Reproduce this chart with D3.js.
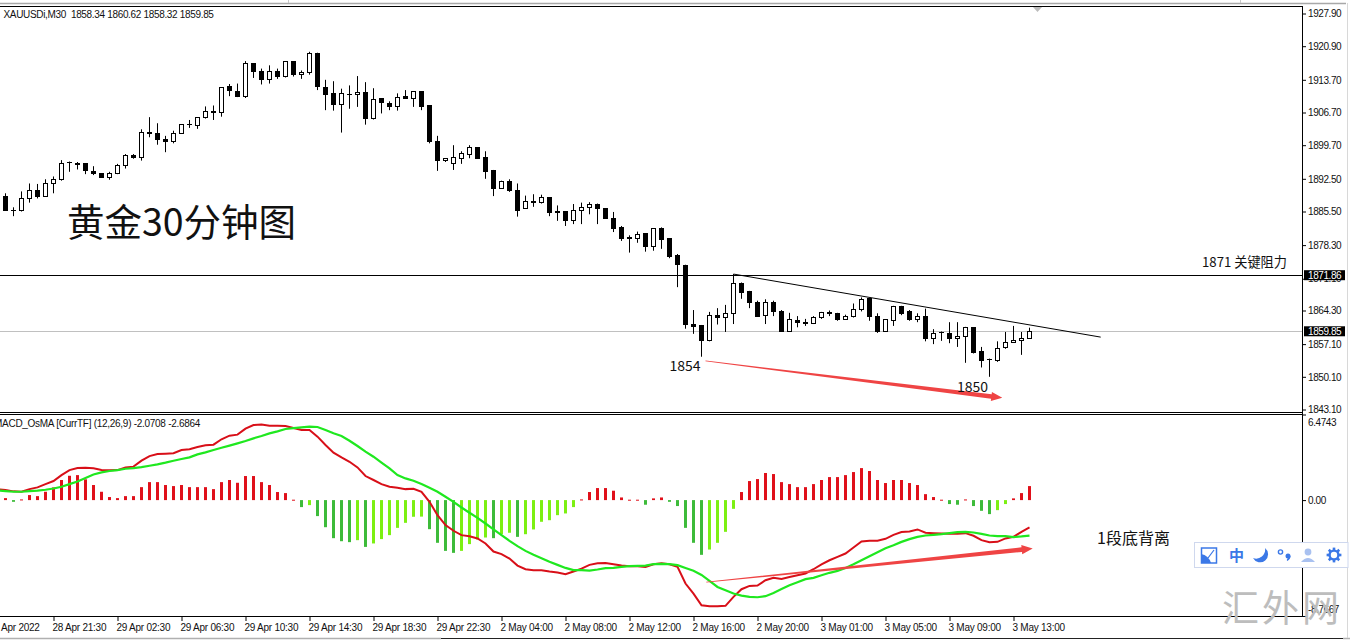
<!DOCTYPE html>
<html><head><meta charset="utf-8">
<script src="https://cdn.jsdelivr.net/npm/d3@7/dist/d3.min.js"></script>
<style>html,body{margin:0;padding:0;background:#fff}svg{display:block}
.ax text{font-family:"Liberation Sans",sans-serif;font-size:10px;letter-spacing:-.42px;fill:#111}
.ax line{stroke:#000}.ax path{display:none}
.cjk{font-family:"Noto Sans CJK SC",sans-serif;fill:#111}</style>
</head><body><svg id="c" width="1350" height="640"></svg>
<script>
const opens=[1888.8,1885.8,1885.7,1888.3,1890.1,1888.7,1891.4,1892.3,1895.9,1895.8,
1895.7,1894.1,1893.7,1892.8,1893.7,1895.4,1897.5,1897.1,1902.5,1902.2,
1900.9,1900.5,1902.2,1904.2,1904.0,1905.7,1907.0,1906.7,1912.2,1911.2,
1910.2,1917.1,1915.5,1913.8,1915.5,1914.4,1917.7,1914.8,1915.2,1919.4,
1912.1,1910.7,1908.4,1910.6,1910.5,1911.0,1905.4,1909.6,1908.7,1907.9,
1910.2,1909.7,1911.1,1908.1,1900.4,1896.4,1895.7,1896.8,1897.8,1899.1,
1897.1,1894.2,1890.4,1892.0,1890.1,1886.1,1887.7,1887.4,1888.5,1885.5,
1885.5,1883.5,1885.7,1886.4,1887.1,1886.2,1884.1,1882.1,1879.9,1879.8,
1880.7,1877.9,1881.9,1879.7,1876.0,1874.0,1861.3,1861.0,1857.8,1863.3,
1862.8,1863.7,1870.1,1868.3,1866.1,1863.3,1866.1,1864.1,1859.8,1862.2,
1861.8,1861.5,1862.7,1863.9,1863.7,1862.4,1863.0,1864.5,1866.8,1863.1,
1859.8,1862.1,1865.1,1864.0,1862.3,1863.1,1858.3,1859.5,1859.4,1858.3,
1858.7,1860.7,1855.5,1853.7,1853.5,1856.3,1857.4,1857.8,1858.34];
const highs=[1889.4,1886.4,1889.8,1891.5,1891.4,1892.4,1893.0,1896.5,1896.2,1896.1,
1895.7,1895.2,1893.7,1894.0,1895.7,1897.8,1897.8,1903.1,1905.7,1904.4,
1901.7,1902.8,1904.1,1905.1,1905.7,1908.0,1908.2,1912.1,1912.8,1912.9,
1917.7,1917.2,1916.1,1916.8,1916.1,1917.7,1917.7,1915.7,1919.7,1919.5,
1913.7,1913.4,1911.8,1912.5,1914.5,1913.2,1911.9,1909.6,1909.1,1910.8,
1911.5,1911.2,1911.2,1908.1,1901.7,1896.9,1899.7,1898.4,1899.7,1899.2,
1898.4,1894.4,1892.1,1892.4,1891.5,1888.9,1889.2,1889.1,1888.5,1886.8,
1885.5,1887.1,1887.4,1887.5,1887.2,1886.2,1885.4,1882.4,1880.4,1881.2,
1880.7,1881.9,1882.1,1879.7,1876.4,1874.1,1864.4,1861.2,1864.0,1864.8,
1865.5,1872.1,1870.3,1868.5,1866.4,1866.7,1866.4,1864.4,1863.8,1863.1,
1862.5,1863.1,1864.0,1864.3,1863.8,1863.4,1865.8,1867.1,1867.0,1863.7,
1862.4,1865.3,1865.3,1864.4,1863.7,1864.7,1860.3,1859.8,1861.8,1861.8,
1860.8,1860.7,1856.5,1854.0,1857.7,1859.7,1861.0,1859.7,1860.62];
const lows=[1885.7,1884.5,1885.5,1887.4,1888.3,1888.7,1889.4,1892.1,1894.0,1894.5,
1893.5,1893.3,1892.7,1892.3,1893.5,1894.7,1896.8,1896.4,1901.4,1899.8,
1898.2,1900.1,1902.1,1903.4,1903.2,1905.4,1905.1,1905.8,1910.2,1910.0,
1909.8,1914.1,1912.7,1912.9,1913.9,1914.2,1914.4,1913.9,1914.8,1911.5,
1907.2,1907.1,1902.4,1907.5,1907.9,1904.1,1905.2,1906.5,1907.2,1907.1,
1909.7,1907.9,1907.2,1900.1,1894.2,1896.1,1894.4,1895.7,1896.9,1896.8,
1892.5,1888.8,1890.4,1889.7,1884.4,1886.1,1886.5,1887.2,1884.5,1883.5,
1882.4,1882.8,1882.8,1884.9,1882.8,1883.9,1881.1,1879.2,1876.7,1878.8,
1876.9,1877.1,1877.5,1875.5,1869.3,1860.4,1859.3,1854.4,1857.7,1861.3,
1859.7,1861.4,1866.8,1864.8,1863.1,1861.4,1863.1,1859.8,1859.7,1860.7,
1861.0,1861.4,1862.5,1863.1,1862.1,1862.4,1862.8,1864.1,1862.1,1859.5,
1859.7,1861.0,1863.3,1862.1,1861.8,1857.7,1857.1,1857.8,1857.3,1856.5,
1853.1,1855.1,1852.1,1850.1,1853.3,1856.1,1857.4,1854.8,1858.32];
const closes=[1885.7,1885.8,1888.3,1890.0,1888.7,1891.4,1892.4,1895.8,1896.0,1895.5,
1894.2,1893.7,1892.8,1893.7,1895.4,1897.5,1897.0,1902.5,1902.2,1900.9,
1900.5,1902.2,1904.1,1904.2,1905.7,1907.0,1906.7,1912.1,1911.4,1910.2,
1917.1,1915.5,1913.7,1915.5,1914.4,1917.7,1914.8,1915.2,1919.4,1912.2,
1910.5,1908.5,1910.7,1910.6,1911.0,1905.4,1909.5,1908.8,1907.9,1909.9,
1909.7,1911.1,1907.9,1900.4,1896.4,1896.9,1897.1,1897.9,1899.1,1896.9,
1894.0,1890.4,1891.9,1889.9,1885.8,1887.7,1887.4,1888.5,1885.2,1885.2,
1883.5,1885.7,1886.4,1887.0,1886.1,1884.1,1881.9,1879.7,1879.7,1880.5,
1877.9,1881.9,1879.4,1875.8,1874.1,1861.4,1860.8,1857.8,1863.3,1862.8,
1863.7,1870.1,1868.1,1866.0,1863.1,1866.1,1864.0,1859.8,1862.3,1861.7,
1861.5,1862.8,1863.8,1863.7,1862.4,1863.0,1864.5,1866.7,1863.0,1859.8,
1862.3,1865.1,1863.7,1862.3,1863.0,1858.3,1859.4,1859.5,1858.3,1858.7,
1860.7,1855.4,1853.5,1853.7,1856.1,1857.4,1857.9,1858.3,1859.85];
const osma=[0.15,-0.13,0.05,0.38,0.30,0.63,0.96,1.52,1.84,1.89,
1.57,1.14,0.63,0.23,0.15,0.30,0.30,0.98,1.36,1.36,
1.14,1.06,1.14,0.98,0.98,0.98,0.83,1.36,1.52,1.31,
1.82,1.82,1.36,1.14,0.61,0.53,0.03,-0.53,-0.38,-1.21,
-2.05,-2.88,-3.11,-3.18,-3.03,-3.54,-3.28,-2.95,-2.65,-2.10,
-1.72,-1.26,-1.25,-2.20,-3.23,-3.84,-3.99,-3.84,-3.33,-2.98,
-2.83,-2.88,-2.58,-2.47,-2.78,-2.58,-2.22,-1.64,-1.52,-1.14,
-1.01,-0.53,0.05,0.61,0.91,0.91,0.71,0.20,0.03,0.03,
-0.35,0.13,0.20,-0.13,-0.45,-2.10,-3.23,-4.14,-3.74,-3.23,
-2.40,-0.66,0.61,1.44,1.59,2.05,1.97,1.36,1.21,0.98,
0.98,1.21,1.52,1.74,1.74,1.89,2.12,2.42,2.20,1.52,
1.29,1.52,1.52,1.29,1.14,0.45,0.23,0.03,-0.30,-0.35,
0.05,-0.45,-0.81,-1.06,-0.76,-0.30,0.13,0.53,1.06];
// MACD and signal start one bar before the first candle, at the left edge of the pane
const macd=[.81,.76,.66,.63,.83,.96,1.21,1.44,1.89,2.27,2.42,
2.45,2.40,2.27,2.25,2.27,2.47,2.53,2.98,3.33,3.48,
3.51,3.54,3.79,3.84,4.01,4.14,4.19,4.60,4.87,4.95,
5.40,5.68,5.71,5.63,5.63,5.61,5.45,5.30,5.30,4.80,
4.17,3.59,3.23,2.90,2.47,1.82,1.52,1.21,1.01,.93,
.83,.86,.63,-.13,-1.14,-1.89,-2.32,-2.65,-2.73,-2.90,
-3.28,-3.89,-4.09,-4.42,-4.95,-5.23,-5.30,-5.30,-5.40,-5.48,
-5.61,-5.40,-5.18,-4.90,-4.77,-4.75,-4.85,-4.95,-5.00,-5.00,
-5.05,-4.85,-4.77,-4.85,-5.05,-6.31,-7.07,-7.95,-8.03,-8.03,
-8.00,-7.32,-6.74,-6.49,-6.46,-6.06,-5.88,-5.96,-5.81,-5.68,
-5.55,-5.23,-4.87,-4.55,-4.29,-4.04,-3.59,-3.13,-3.08,-3.08,
-2.93,-2.63,-2.42,-2.37,-2.22,-2.47,-2.50,-2.53,-2.55,-2.55,
-2.50,-2.70,-3.03,-3.18,-3.16,-2.90,-2.78,-2.40,-2.0708];
const signal=[.73,.68,.63,.63,.68,.71,.78,.88,1.01,1.21,1.41,
1.67,1.94,2.10,2.20,2.27,2.37,2.42,2.50,2.60,2.70,
2.83,2.98,3.11,3.23,3.46,3.61,3.79,3.96,4.12,4.29,
4.47,4.67,4.85,5.05,5.20,5.38,5.45,5.50,5.55,5.53,
5.30,5.05,4.85,4.49,4.09,3.66,3.28,2.83,2.40,1.89,
1.64,1.46,1.21,.93,.63,.25,-.13,-.56,-.96,-1.34,
-1.77,-2.22,-2.65,-3.08,-3.48,-3.84,-4.14,-4.39,-4.67,-4.90,
-5.13,-5.30,-5.30,-5.33,-5.25,-5.15,-5.13,-5.05,-5.00,-4.97,
-4.95,-4.85,-4.82,-4.85,-4.92,-5.13,-5.35,-5.66,-6.11,-6.57,
-6.82,-7.07,-7.22,-7.32,-7.35,-7.27,-7.02,-6.72,-6.44,-6.21,
-5.98,-5.88,-5.68,-5.50,-5.35,-5.13,-4.85,-4.55,-4.24,-3.94,
-3.64,-3.41,-3.16,-2.95,-2.78,-2.68,-2.63,-2.58,-2.50,-2.42,
-2.40,-2.45,-2.55,-2.68,-2.73,-2.73,-2.80,-2.75,-2.6864];
const priceTicks=[1927.90,1920.90,1913.70,1906.70,1899.70,1892.50,1885.50,1878.30,1871.10,1864.30,1857.10,1850.10,1843.10];
const macdTicks=[6.4743,0,-8.7667];
const macdTickLabels=["6.4743","0.00","-8.7667"];
const timeTicks=[-2,6,14,22,30,38,46,54,62,70,78,86,94,102,110,118,126];
const timeLabels=["28 Apr 2022","28 Apr 21:30","29 Apr 02:30","29 Apr 06:30","29 Apr 10:30","29 Apr 14:30","29 Apr 18:30","29 Apr 22:30","2 May 04:00","2 May 08:00","2 May 12:00","2 May 16:00","2 May 20:00","3 May 01:00","3 May 05:00","3 May 09:00","3 May 13:00"];
const resistance=1871.86, lastPrice=1859.85;
const trendI=[91,136.9], trendP=[1872.1,1858.6];
const priceArrowI=[87.5,124.6], priceArrowP=[1853.5,1845.6];
const macdArrowI=[87.6,128.4], macdArrowV=[-6.21,-3.66];

const svg=d3.select("#c");
const x=d3.scaleLinear().domain([0,128]).range([5.5,1029.5]);
const yP=d3.scaleLinear().domain([1927.9,1843.1]).range([13.5,409.5]);
const yM=d3.scaleLinear().domain([6.4743,-8.7667]).range([414.5,616]);
const snap=v=>Math.round(v-.5)+.5;
const idx=d3.range(opens.length);

// window chrome
const hl=(x1,x2,y,c,w=1)=>svg.append("line").attr("x1",x1).attr("x2",x2).attr("y1",y).attr("y2",y).attr("stroke",c).attr("stroke-width",w);
const vl=(xx,y1,y2,c,w=1)=>svg.append("line").attr("x1",xx).attr("x2",xx).attr("y1",y1).attr("y2",y2).attr("stroke",c).attr("stroke-width",w);
hl(0,1346,3.5,"#a8a8a8",1.5);
vl(288.5,0,3,"#c8c8c8");vl(1240.5,0,3,"#c8c8c8");
hl(0,441,638.5,"#b0b0b0",1.5);hl(441,1343,638.5,"#222",1);hl(1343,1350,638.5,"#b0b0b0",1.5);
vl(1347.5,3,638,"#d8d8d8",1);

// reference lines behind candles
hl(0,1303,snap(yP(resistance)),"#000");
hl(0,1303,snap(yP(lastPrice)),"#c0c0c0");

// candles
const g=svg.append("g");
idx.forEach(i=>{
  const cx=x(i),up=closes[i]>=opens[i];
  const t=snap(yP(Math.max(opens[i],closes[i]))),b=snap(yP(Math.min(opens[i],closes[i])));
  g.append("line").attr("x1",cx).attr("x2",cx).attr("y1",yP(highs[i])).attr("y2",yP(lows[i])).attr("stroke","#000");
  if(b-t<1){g.append("line").attr("x1",cx-2.5).attr("x2",cx+2.5).attr("y1",t).attr("y2",t).attr("stroke","#000");}
  else if(up){g.append("rect").attr("x",cx-2).attr("y",t).attr("width",4).attr("height",b-t).attr("fill","#fff").attr("stroke","#000");}
  else{g.append("rect").attr("x",cx-2.5).attr("y",t-.5).attr("width",5).attr("height",b-t+1).attr("fill","#000");}
});

// tapered arrow helper
function arrow(x0,y0,x1,y1,c){
  const L=Math.hypot(x1-x0,y1-y0),ux=(x1-x0)/L,uy=(y1-y0)/L,nx=-uy,ny=ux;
  const hb=[x1-ux*11,y1-uy*11];
  const p=[[x0+nx*.4,y0+ny*.4],[hb[0]+nx*2.3,hb[1]+ny*2.3],[hb[0]+nx*4.6,hb[1]+ny*4.6],[x1,y1],
           [hb[0]-nx*4.6,hb[1]-ny*4.6],[hb[0]-nx*2.3,hb[1]-ny*2.3],[x0-nx*.4,y0-ny*.4]];
  svg.append("polygon").attr("points",p.map(d=>d.join(",")).join(" ")).attr("fill",c);
}

// trend line and arrow, upper pane
svg.append("line").attr("x1",x(trendI[0])).attr("y1",yP(trendP[0])).attr("x2",x(trendI[1])).attr("y2",yP(trendP[1])).attr("stroke","#000");
arrow(x(priceArrowI[0]),yP(priceArrowP[0]),x(priceArrowI[1]),yP(priceArrowP[1]),"#ef4444");

// histogram
idx.forEach(i=>{
  const v=osma[i],y0=yM(0),yv=yM(v);
  const c=v>=0?"#e0101a":(i>0&&v>osma[i-1]?"#7cf012":"#3dbb3a");
  svg.append("rect").attr("x",x(i)-1.5).attr("width",3).attr("y",Math.min(y0,yv)).attr("height",Math.max(1,Math.abs(yv-y0))).attr("fill",c);
});
// indicator lines (array index 0 is the bar before candle 0)
const line=a=>d3.line().x((d,i)=>x(i-1)).y(d=>yM(d))(a);
svg.append("path").attr("d",line(macd)).attr("fill","none").attr("stroke","#d80f18").attr("stroke-width",2);
svg.append("path").attr("d",line(signal)).attr("fill","none").attr("stroke","#1fe81f").attr("stroke-width",2.2);
arrow(x(macdArrowI[0]),yM(macdArrowV[0]),x(macdArrowI[1]),yM(macdArrowV[1]),"#ef4444");

// frame
hl(0,1303,6.5,"#000");hl(0,1303,412.5,"#000");hl(0,1303,414.5,"#000");hl(0,1303,616.5,"#000");
vl(1302.5,6,617,"#000");

// axes
svg.append("g").attr("class","ax").attr("transform","translate(1303,0)")
  .call(d3.axisRight(yP).tickValues(priceTicks).tickSize(3).tickPadding(2).tickFormat(d3.format(".2f")));
const am=svg.append("g").attr("class","ax").attr("transform","translate(1303,0)")
  .call(d3.axisRight(yM).tickValues(macdTicks).tickSize(3).tickPadding(2).tickFormat((d,i)=>macdTickLabels[i]));
am.selectAll("text").attr("dy",(d,i)=>i==0?"1.05em":i==2?"-.38em":".32em");
const at=svg.append("g").attr("class","ax").attr("transform","translate(0,617)")
  .call(d3.axisBottom(x).tickValues(timeTicks).tickSize(4).tickFormat((d,i)=>timeLabels[i]));
at.selectAll("text").attr("text-anchor","start").attr("x",-1.5).attr("y",7).attr("dy",".71em").style("letter-spacing","-.25px");

// current-value boxes
[[resistance],[lastPrice]].forEach(([p])=>{
  const yy=yP(p);
  svg.append("rect").attr("x",1304).attr("y",yy-5).attr("width",41).attr("height",10).attr("fill","#000");
  svg.append("text").attr("x",1308).attr("y",yy+3.5).attr("fill","#fff")
    .style("font-family",'"Liberation Sans",sans-serif').style("font-size","10px").style("letter-spacing","-.42px").text(p.toFixed(2));
});

// texts
const T=(s,xx,yy,size,cls,extra)=>{const t=svg.append("text").attr("x",xx).attr("y",yy).style("font-size",size+"px").text(s);
  if(cls)t.attr("class",cls);else t.style("font-family",'"Liberation Sans",sans-serif').attr("fill","#111");
  if(extra)extra(t);return t;};
T("XAUUSDi,M30  1858.34 1860.62 1858.32 1859.85",3.5,18,10,null,t=>t.style("white-space","pre").style("letter-spacing","-.33px"));
T("MACD_OsMA [CurrTF] (12,26,9) -2.0708 -2.6864",-6,427,10,null,t=>t.style("letter-spacing","-.28px"));
T("黄金30分钟图",67,236,37.5,"cjk");
T("1871 关键阻力",1202,267,13.2,"cjk");
T("1854",669.5,371,14,"cjk");
T("1850",957,392,14,"cjk");
T("1段底背离",1097,544,16,"cjk");

// collapse marker
svg.append("path").attr("d",d3.line()([[1033,7],[1042,7],[1037.5,12]])+"Z").attr("fill","#bbb");

// watermark
T("汇外网",1222,622,37,"cjk",t=>t.style("fill","#bdbdbd").style("letter-spacing","3px"));

// toolbar
svg.append("rect").attr("x",1194.5).attr("y",542.5).attr("width",153.5).attr("height",25).attr("fill","#fff").attr("stroke","#cfd8ee");
const B="#3b78e7";
const tb=svg.append("g");
tb.append("rect").attr("x",1201.5).attr("y",548).attr("width",15).attr("height",15).attr("fill","#fff").attr("stroke",B).attr("stroke-width",1.5);
tb.append("path").attr("d","M1201 563V554A13 13 0 0 1 1211 563Z").attr("fill",B);
tb.append("path").attr("d","M1208 558L1214 550").attr("stroke",B).attr("stroke-width",1.2);
tb.append("text").attr("x",1229).attr("y",560.5).style("font-family",'"Noto Sans CJK SC"').style("font-size","15px").style("font-weight",700).attr("fill",B).text("中");
tb.append("path").attr("d","M1265 548A8 8 0 1 1 1253 558A9 9 0 0 0 1265 548Z").attr("fill",B);
tb.append("circle").attr("cx",1280.5).attr("cy",552).attr("r",2.1).attr("fill","none").attr("stroke",B).attr("stroke-width",1.4);
tb.append("circle").attr("cx",1288).attr("cy",556).attr("r",2.5).attr("fill",B);
tb.append("path").attr("d","M1288 556h2.5q0 3.4-3.2 5l-.6-.9q1.6-1.2 1.3-4.1Z").attr("fill",B);
tb.append("circle").attr("cx",1308).attr("cy",552).attr("r",3.4).attr("fill","#a9c1f0");
tb.append("path").attr("d","M1301 562q7-8 14 0Z").attr("fill","#a9c1f0");
tb.append("circle").attr("cx",1334).attr("cy",555).attr("r",4.4).attr("fill","none").attr("stroke",B).attr("stroke-width",2.4);
d3.range(8).forEach(k=>{tb.append("rect").attr("x",1332.7).attr("y",547.6).attr("width",2.6).attr("height",3).attr("fill",B).attr("transform",`rotate(${k*45} 1334 555)`);});
</script></body></html>
